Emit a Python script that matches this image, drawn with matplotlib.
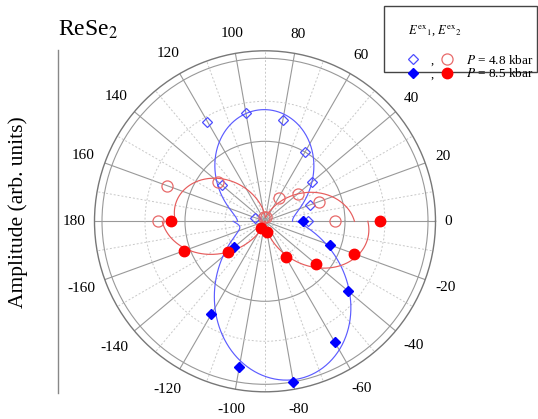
import numpy as np
import matplotlib
matplotlib.use("Agg")
import matplotlib.pyplot as plt
from matplotlib.patches import Rectangle

plt.rcParams["font.family"] = ["Liberation Serif", "DejaVu Serif"]
plt.rcParams["mathtext.fontset"] = "stix"

# E1 mode, P = 4.8 kbar (open diamonds)
ang_e1_lo = [0, 20, 40, 60, 80, 100, 120, 140, 160]
amp_e1_lo = [0.27, 0.30, 0.38, 0.50, 0.64, 0.69, 0.72, 0.35, 0.065]
# E1 mode, P = 8.5 kbar (filled diamonds)
ang_e1_hi = [0, -20, -40, -60, -80, -100, -120, -140]
amp_e1_hi = [0.24, 0.43, 0.675, 0.87, 1.02, 0.925, 0.67, 0.25]
# E2 mode, P = 4.8 kbar (open circles)
ang_e2_lo = [0, 20, 40, 60, 80, 100, 140, 160, 180]
amp_e2_lo = [0.44, 0.36, 0.27, 0.17, 0.03, 0.03, 0.38, 0.65, 0.67]
# E2 mode, P = 8.5 kbar (filled circles)
ang_e2_hi = [0, -20, -40, -60, -80, -120, -140, -160, 180]
amp_e2_hi = [0.72, 0.59, 0.42, 0.26, 0.065, 0.05, 0.30, 0.54, 0.59]

angle_ticks = list(range(0, 360, 20))
angle_labels = [str(a) if a <= 180 else "-" + str(360 - a) for a in angle_ticks]

BLUE_OPEN = "#4d4dff"
BLUE = "#0000ff"
BLUE_LINE = "#5c5cff"
RED_OPEN = "#e86a6a"
RED = "#ff0000"
RED_LINE = "#e65c5c"


def fit_curve(ang, amp, lo, hi):
    # least squares a + b cos2t + c sin2t, evaluated over [lo, hi] degrees
    t = np.radians(ang)
    M = np.column_stack([np.ones_like(t), np.cos(2 * t), np.sin(2 * t)])
    coef = np.linalg.lstsq(M, np.asarray(amp), rcond=None)[0]
    tt = np.radians(np.linspace(lo, hi, 361))
    return tt, coef[0] + coef[1] * np.cos(2 * tt) + coef[2] * np.sin(2 * tt)


W, H = 538, 419
fig = plt.figure(figsize=(W / 100, H / 100), dpi=100)

cx, cy, R = 265, 221.3, 170.5
ax = fig.add_axes([(cx - R) / W, (H - cy - R) / H, 2 * R / W, 2 * R / H],
                  projection="polar")
RMAX = R / 160
ax.set_ylim(0, RMAX)
ax.set_yticks([0.25, 0.5, 0.75, 163 / 160])
ax.set_yticklabels([])
ax.set_xticks(np.radians(np.arange(0, 360, 10)))
ax.set_xticklabels([])
ax.grid(True)
ax.tick_params(axis="x", direction="in", length=5, width=0.8, colors="#777777")
ax.tick_params(axis="y", length=0)
ax.spines["polar"].set_color("#777777")
ax.spines["polar"].set_linewidth(1.0)

for i, t in enumerate(ax.xaxis.get_major_ticks()):
    if i % 2 == 0:
        t.gridline.set(color="#999999", linestyle="-", linewidth=0.8)
    else:
        t.gridline.set(color="#c8c8c8", linestyle=(0, (2, 2)), linewidth=0.7)
for i, t in enumerate(ax.yaxis.get_major_ticks()):
    if i % 2 == 1:
        t.gridline.set(color="#999999", linestyle="-", linewidth=0.8)
    else:
        t.gridline.set(color="#c8c8c8", linestyle=(0, (2, 2)), linewidth=0.7)

# fitted curves
tt, rr = fit_curve(ang_e1_lo, amp_e1_lo, 0, 180)
ax.plot(tt, rr, color=BLUE_LINE, lw=0.85, zorder=3)
tt, rr = fit_curve(ang_e1_hi, amp_e1_hi, -180, 0)
ax.plot(tt, rr, color=BLUE_LINE, lw=0.85, zorder=3)
tt, rr = fit_curve(ang_e2_lo, amp_e2_lo, 0, 180)
ax.plot(tt, rr, color=RED_LINE, lw=0.85, zorder=3)
tt, rr = fit_curve(ang_e2_hi, amp_e2_hi, -180, 0)
ax.plot(tt, rr, color=RED_LINE, lw=0.85, zorder=3)

# measured points
ax.plot(np.radians(ang_e1_lo), amp_e1_lo, "D", ms=5.2, mfc="none", mec=BLUE_OPEN,
        mew=0.9, ls="none", zorder=4)
ax.plot(np.radians(ang_e2_lo), amp_e2_lo, "o", ms=8, mfc="none", mec=RED_OPEN,
        mew=0.9, ls="none", zorder=4)
ax.plot(np.radians(ang_e1_hi), amp_e1_hi, "D", ms=5.2, color=BLUE, ls="none", zorder=5)
ax.plot(np.radians(ang_e2_hi), amp_e2_hi, "o", ms=7.5, color=RED, ls="none", zorder=5)

# angle labels just outside the frame
labs = []
for a, s in zip(angle_ticks, angle_labels):
    th = np.radians(a)
    t = ax.annotate(s, xy=(th, RMAX), xycoords="data", xytext=(0, 0),
                    textcoords="offset pixels", ha="center", va="center",
                    fontsize=11, annotation_clip=False)
    labs.append((t, th))
fig.canvas.draw()
rend = fig.canvas.get_renderer()
for t, th in labs:
    bb = t.get_window_extent(rend)
    d = 9 + abs(np.cos(th)) * bb.width / 2 + abs(np.sin(th)) * (bb.height / 2 + 3)
    t.xyann = (d * np.cos(th), d * np.sin(th))

# overlay in pixel coordinates for the decorations around the plot
lax = fig.add_axes([0, 0, 1, 1], zorder=10)
lax.set_xlim(0, W)
lax.set_ylim(H, 0)
lax.axis("off")

lax.plot([58, 58], [50, 393], color="#888888", lw=1)
lax.text(18, 212, "Amplitude (arb. units)", rotation=90, ha="center", va="center",
         fontsize=15.5)
lax.text(58, 36, r"ReSe$_2$", fontsize=17, ha="left", va="baseline")

lax.add_patch(Rectangle((384, 6.5), 153, 65.5, fill=False, ec="#444444", lw=1))
lax.text(408, 31, r"$E^{\mathrm{ex}}{}_{1}$, $E^{\mathrm{ex}}{}_{2}$", fontsize=9,
         ha="left", va="center")
lax.plot(413.3, 59.3, "D", ms=5.2, mfc="none", mec=BLUE_OPEN, mew=0.9)
lax.plot(446.7, 59.3, "o", ms=8, mfc="none", mec=RED_OPEN, mew=0.9)
lax.plot(413.3, 73.3, "D", ms=5.2, color=BLUE)
lax.plot(446.7, 73.3, "o", ms=7.5, color=RED)
lax.text(432, 61, ",", fontsize=9, ha="center", va="center")
lax.text(432, 75, ",", fontsize=9, ha="center", va="center")
lax.text(466, 60, r"$P$ = 4.8 kbar", fontsize=9.5, ha="left", va="center")
lax.text(466, 73.5, r"$P$ = 8.5 kbar", fontsize=9.5, ha="left", va="center")

fig.savefig("out.png", dpi=100)
